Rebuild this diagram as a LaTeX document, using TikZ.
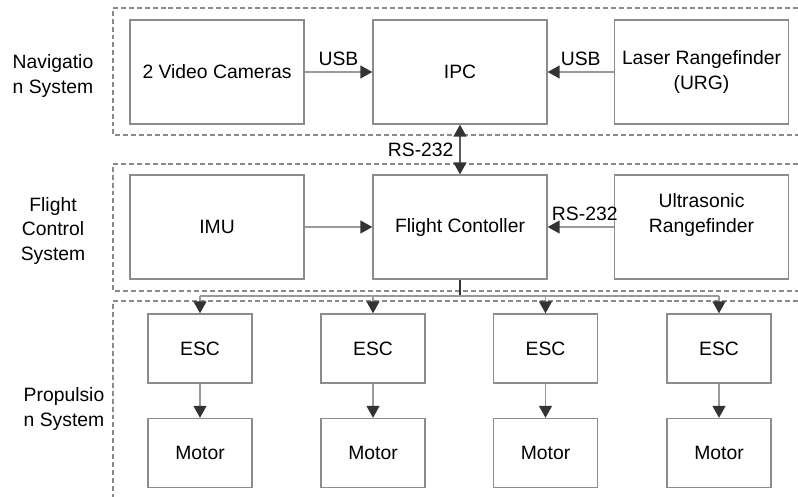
\documentclass[tikz,border=0pt]{standalone}
\usepackage{fontspec}
\setmainfont{Liberation Sans}
\usepackage{tikz}
\usetikzlibrary{arrows.meta, positioning}

\definecolor{boxgray}{HTML}{8C8C8C}
\definecolor{linegray}{HTML}{9A9A9A}
\definecolor{tipdark}{HTML}{333333}
\definecolor{dashgray}{HTML}{8A8A8A}

\begin{document}
\begin{tikzpicture}[x=0.02cm, y=-0.02cm,
      font=\fontsize{11}{14}\selectfont,
      >={Triangle[length=0.24cm, width=0.26cm, color=tipdark]},
      block/.style={rectangle, draw=boxgray, line width=0.8pt, minimum width=3.48cm, minimum height=2.08cm, align=center},
      unit/.style={rectangle, draw=boxgray, line width=0.8pt, minimum width=2.08cm, minimum height=1.38cm},
      group/.style={draw=dashgray, line width=0.6pt, dash pattern=on 2.8pt off 1.7pt},
      link/.style={draw=linegray, line width=0.8pt, ->}]

      \useasboundingbox (0,0) rectangle (798,497);

      % System frames
      \draw[group] (798,8) -- (113,8) -- (113,135) -- (798,135);
      \draw[group] (798,164) -- (113,164) -- (113,291) -- (798,291);
      \draw[group] (798,301) -- (113,301) -- (113,497);

      \node[align=center] (navlbl) at (53,76) {Navigatio\\n System};
      \node[align=center] (fcslbl) at (53,231) {Flight\\Control\\System};
      \node[align=center] (prolbl) at (64,409) {Propulsio\\n System};

      % Navigation system
      \node[block] (cams) at (217,72) {2 Video Cameras};
      \node[block] (ipc) at (460,72) {IPC};
      \node[block] (urg) at (701.5,72) {Laser Rangefinder\\(URG)};

      % Flight control system
      \node[block] (imu) at (217,227) {IMU};
      \node[block] (fc) at (460,227) {Flight Contoller};
      \node[block] (ultra) at (701.5,227) {};
      \node[align=center] (ultratxt) at ([yshift=0.24cm]ultra.center) {Ultrasonic\\Rangefinder};

      % Propulsion system
      \foreach \i/\x in {1/200, 2/373, 3/545.5, 4/719} {
        \node[unit] (esc\i) at (\x,348.5) {ESC};
        \node[unit] (mot\i) at (\x,453) {Motor};
      }

      % Arrows
      \draw[link] (cams) -- node[above] {USB} (ipc);
      \draw[link] (urg) -- node[above] {USB} (ipc);
      \draw[link] (imu) -- (fc);
      \draw[link] (ultra) -- node[above, xshift=0.08cm] {RS-232} (fc);
      \draw[link, draw=tipdark!80, <->] (ipc) -- node[left] {RS-232} (fc);

      \coordinate (bus) at (460,296);
      \draw[tipdark, line width=0.8pt] (fc.south) -- (bus);
      \draw[linegray, line width=0.8pt] (esc1.north |- bus) -- (esc4.north |- bus);
      \foreach \i in {1,...,4} {
        \draw[link] (esc\i.north |- bus) -- (esc\i.north);
        \draw[link] (esc\i) -- (mot\i);
      }
    \end{tikzpicture}
\end{document}
